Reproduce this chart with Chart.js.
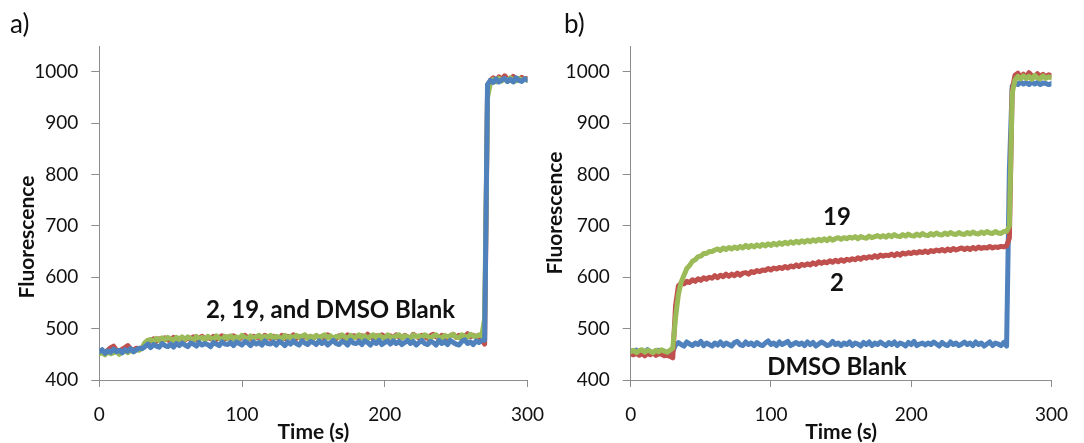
<!DOCTYPE html>
<html>
<head>
<meta charset="utf-8">
<script src="https://cdn.jsdelivr.net/npm/chart.js@4.4.1/dist/chart.umd.min.js"></script>
<style>
  html, body { margin: 0; padding: 0; background: #fff; }
  body { width: 1084px; height: 443px; position: relative; overflow: hidden; }
  .panel { position: absolute; top: 0; height: 443px; }
  #panelA { left: 0; width: 560px; }
  #panelB { left: 540px; width: 544px; }
</style>
</head>
<body>
<div class="panel" id="panelA"><canvas id="chartA"></canvas></div>
<div class="panel" id="panelB"><canvas id="chartB"></canvas></div>
<script>
// Sampling times (s)
const timeS = [
  0, 2, 4, 6, 8, 10, 12, 14, 16, 18, 20, 22, 24, 26, 28,
  30, 32, 34, 36, 38, 40, 42, 44, 46, 48, 50, 52, 54, 56, 58,
  60, 62, 64, 66, 68, 70, 72, 74, 76, 78, 80, 82, 84, 86, 88,
  90, 92, 94, 96, 98, 100, 102, 104, 106, 108, 110, 112, 114, 116, 118,
  120, 122, 124, 126, 128, 130, 132, 134, 136, 138, 140, 142, 144, 146, 148,
  150, 152, 154, 156, 158, 160, 162, 164, 166, 168, 170, 172, 174, 176, 178,
  180, 182, 184, 186, 188, 190, 192, 194, 196, 198, 200, 202, 204, 206, 208,
  210, 212, 214, 216, 218, 220, 222, 224, 226, 228, 230, 232, 234, 236, 238,
  240, 242, 244, 246, 248, 250, 252, 254, 256, 258, 260, 262, 264, 266, 268,
  270, 272, 274, 276, 278, 280, 282, 284, 286, 288, 290, 292, 294, 296, 298,
  300
];

// Panel a) fluorescence traces
const aCompound2 = [
  455, 457, 453, 458, 463, 466, 458, 456, 460, 463, 467, 460, 458, 462, 460,
  463, 471, 477, 476, 480, 475, 480, 477, 482, 478, 477, 483, 478, 481, 482,
  478, 482, 480, 484, 479, 481, 485, 479, 483, 480, 485, 479, 483, 486, 480,
  484, 480, 486, 482, 479, 484, 487, 481, 480, 485, 482, 484, 480, 487, 483,
  481, 485, 483, 480, 487, 481, 485, 483, 488, 481, 485, 480, 487, 482, 485,
  481, 486, 483, 485, 481, 488, 484, 482, 480, 486, 485, 481, 488, 483, 486,
  485, 481, 486, 483, 489, 484, 481, 486, 483, 488, 484, 482, 486, 481, 488,
  484, 482, 487, 484, 481, 489, 485, 482, 487, 484, 481, 486, 489, 484, 482,
  487, 484, 482, 486, 489, 483, 487, 482, 485, 490, 484, 487, 485, 483, 478,
  470, 958, 983, 988, 982, 990, 985, 992, 986, 983, 991, 986, 984, 989, 986,
  987
];
const aCompound19 = [
  451, 454, 449, 455, 451, 453, 456, 450, 454, 457, 453, 458, 455, 459, 458,
  462, 473, 477, 479, 475, 481, 477, 482, 478, 483, 480, 476, 483, 479, 484,
  479, 484, 481, 477, 485, 480, 483, 478, 485, 482, 479, 486, 481, 479, 485,
  481, 486, 480, 484, 481, 487, 483, 479, 486, 481, 484, 487, 481, 485, 483,
  487, 481, 485, 483, 479, 487, 482, 485, 481, 487, 483, 485, 488, 481, 485,
  482, 487, 481, 485, 488, 482, 486, 480, 485, 483, 488, 484, 480, 487, 482,
  484, 488, 482, 486, 480, 485, 488, 482, 487, 484, 480, 488, 484, 482, 486,
  488, 482, 486, 484, 480, 488, 484, 486, 482, 488, 485, 481, 486, 488, 483,
  482, 487, 484, 486, 489, 483, 482, 488, 485, 483, 489, 486, 484, 488, 486,
  520, 950, 977, 985, 980, 987, 982, 986, 981, 988, 984, 982, 987, 983, 986,
  983
];
const aBlank = [
  455, 459, 452, 457, 454, 460, 455, 458, 453, 459, 456, 461, 455, 459, 462,
  461, 465, 470, 463, 469, 466, 464, 471, 467, 465, 470, 464, 471, 467, 472,
  468, 465, 472, 470, 466, 473, 468, 471, 469, 465, 473, 470, 467, 474, 470,
  469, 473, 467, 474, 471, 468, 475, 472, 467, 474, 470, 473, 468, 476, 471,
  470, 474, 468, 475, 472, 467, 474, 470, 476, 471, 468, 476, 472, 469, 475,
  473, 469, 476, 471, 475, 468, 473, 477, 471, 469, 475, 473, 468, 477, 472,
  471, 475, 469, 476, 473, 468, 475, 471, 477, 469, 473, 476, 470, 476, 471,
  475, 469, 473, 477, 471, 475, 468, 473, 477, 471, 469, 475, 473, 468, 477,
  471, 475, 469, 477, 473, 470, 468, 475, 478, 471, 474, 469, 476, 473, 477,
  478, 975, 983, 979, 986, 980, 984, 987, 981, 985, 980, 988, 983, 981, 986,
  984
];

// Panel b) fluorescence traces
const bCompound2 = [
  451, 449, 452, 448, 451, 447, 452, 449, 453, 448, 451, 450, 447, 448, 446,
  443, 545, 583, 588, 587, 592, 590, 595, 592, 597, 594, 599, 596, 600, 598,
  603, 599, 604, 601, 606, 602, 606, 603, 608, 604, 608, 609, 606, 611, 609,
  613, 611, 614, 613, 617, 614, 618, 616, 619, 617, 621, 618, 622, 620, 624,
  621, 625, 623, 626, 624, 628, 625, 630, 627, 630, 628, 632, 629, 633, 630,
  634, 631, 635, 633, 636, 634, 638, 635, 639, 637, 640, 638, 642, 639, 643,
  641, 643, 642, 645, 642, 646, 643, 647, 645, 648, 646, 649, 647, 650, 648,
  651, 648, 652, 650, 653, 651, 654, 651, 655, 652, 656, 653, 655, 657, 654,
  657, 654, 658, 655, 659, 656, 658, 657, 660, 657, 659, 658, 660, 659, 661,
  676, 965, 993, 997, 989, 995, 990, 998, 992, 990, 996, 991, 995, 990, 994,
  992
];
const bCompound19 = [
  455, 458, 453, 457, 459, 454, 458, 456, 453, 458, 455, 459, 456, 454, 458,
  462, 522, 566, 591, 604, 617, 623, 631, 634, 640, 641, 646, 646, 650, 650,
  653, 655, 652, 657, 654, 658, 655, 659, 656, 660, 657, 662, 658, 662, 659,
  663, 660, 664, 661, 665, 662, 666, 663, 667, 664, 668, 665, 669, 666, 670,
  667, 671, 668, 672, 669, 673, 670, 674, 671, 675, 671, 676, 672, 675, 677,
  674, 677, 675, 678, 676, 679, 675, 679, 677, 676, 680, 677, 679, 681, 678,
  681, 678, 682, 679, 683, 680, 679, 683, 680, 684, 681, 680, 684, 681, 685,
  682, 681, 685, 682, 686, 683, 682, 686, 683, 687, 684, 683, 687, 684, 683,
  687, 684, 688, 685, 684, 688, 685, 689, 686, 685, 689, 686, 685, 689, 689,
  700, 958, 984, 991, 986, 992, 987, 991, 985, 993, 988, 986, 992, 987, 990,
  988
];
const bBlank = [
  457, 453, 458, 452, 456, 454, 459, 455, 452, 457, 458, 453, 456, 452, 455,
  456, 468, 473, 469, 466, 474, 470, 467, 472, 469, 475, 467, 472, 469, 466,
  472, 468, 474, 467, 472, 469, 466, 473, 475, 469, 467, 474, 469, 472, 467,
  473, 469, 467, 472, 476, 469, 472, 467, 474, 469, 472, 475, 467, 470, 473,
  469, 472, 467, 474, 469, 473, 466, 470, 474, 471, 467, 469, 475, 469, 472,
  467, 472, 469, 474, 467, 472, 470, 466, 473, 469, 474, 467, 472, 469, 474,
  470, 467, 473, 469, 474, 467, 472, 470, 466, 473, 469, 475, 467, 470, 472,
  468, 472, 469, 474, 470, 466, 473, 469, 467, 474, 469, 472, 467, 470, 474,
  469, 472, 467, 474, 469, 472, 466, 470, 474, 467, 472, 470, 467, 473, 466,
  810, 972, 979, 975, 980, 976, 979, 975, 980, 976, 979, 975, 978, 977, 975,
  977
];

// Axis ticks and text
const xTicks = [0, 100, 200, 300];
const yTicks = [400, 500, 600, 700, 800, 900, 1000];
const xTitle = 'Time (s)';
const yTitle = 'Fluorescence';
const panelLetters = ['a)', 'b)'];
const aNoteText = ['2, 19, and DMSO Blank'];
const bNoteText = ['19', '2', 'DMSO Blank'];

const FONT = 'Lato, "Open Sans", sans-serif';
const TEXT = '#111111';
const AXIS = '#8c8c8c';
const RED = '#C0504D';
const GREEN = '#9BBB59';
const BLUE = '#4F81BD';

// Draws panel letter, axis titles and the in-plot trace labels
function panelText(cfg) {
  return {
    id: 'panelText',
    afterDatasetsDraw(chart) {
      const { ctx, chartArea, scales } = chart;
      ctx.save();
      ctx.fillStyle = TEXT;
      ctx.textBaseline = 'middle';

      ctx.font = `26px ${FONT}`;
      ctx.textAlign = 'left';
      ctx.fillText(cfg.letter, cfg.letterX, 25);

      ctx.font = `bold 21px ${FONT}`;
      ctx.textAlign = 'center';
      ctx.fillText(xTitle, (chartArea.left + chartArea.right) / 2, 432);

      ctx.save();
      ctx.translate(cfg.yTitleX, cfg.yTitleY);
      ctx.rotate(-Math.PI / 2);
      ctx.fillText(yTitle, 0, 0);
      ctx.restore();

      ctx.font = `bold 24px ${FONT}`;
      cfg.notes.forEach(n => {
        ctx.fillText(n.text, scales.x.getPixelForValue(n.x), scales.y.getPixelForValue(n.y));
      });
      ctx.restore();
    }
  };
}

function series(values, color, order) {
  return {
    data: timeS.map((t, i) => ({ x: t, y: values[i] })),
    borderColor: color,
    backgroundColor: color,
    borderWidth: 5,
    borderJoinStyle: 'round',
    borderCapStyle: 'round',
    pointRadius: 0,
    tension: 0,
    order: order
  };
}

function makeChart(id, datasets, cfg) {
  return new Chart(document.getElementById(id), {
    type: 'line',
    data: { datasets },
    options: {
      responsive: true,
      maintainAspectRatio: false,
      animation: false,
      layout: { padding: { top: 46, right: cfg.padRight, bottom: 0, left: 0 } },
      plugins: { legend: { display: false }, tooltip: { enabled: false } },
      scales: {
        x: {
          type: 'linear',
          min: 0,
          max: 300,
          afterBuildTicks: ax => { ax.ticks = xTicks.map(v => ({ value: v })); },
          afterFit: ax => { ax.height = 63; },
          grid: { drawOnChartArea: false, drawTicks: true, tickLength: 7, color: AXIS },
          border: { display: true, color: AXIS, width: 1 },
          ticks: {
            padding: 16, color: TEXT, font: { family: FONT, size: 19 },
            maxRotation: 0, autoSkip: false,
            callback: v => String(v)
          }
        },
        y: {
          type: 'linear',
          min: 400,
          max: 1050,
          afterBuildTicks: ax => { ax.ticks = yTicks.map(v => ({ value: v })); },
          afterFit: ax => { ax.width = cfg.yWidth; },
          grid: { drawOnChartArea: false, drawTicks: true, tickLength: 8, color: AXIS },
          border: { display: true, color: AXIS, width: 1 },
          ticks: {
            padding: 13, color: TEXT, font: { family: FONT, size: 19 },
            callback: v => String(v)
          }
        }
      }
    },
    plugins: [panelText(cfg)]
  });
}

makeChart('chartA', [
  series(aBlank, BLUE, 0),
  series(aCompound19, GREEN, 1),
  series(aCompound2, RED, 2)
], {
  yWidth: 99.3, padRight: 28.7,
  letter: panelLetters[0], letterX: 10,
  yTitleX: 27, yTitleY: 237,
  notes: [{ text: aNoteText[0], x: 162, y: 536 }]
});

makeChart('chartB', [
  series(bCompound19, GREEN, 0),
  series(bCompound2, RED, 1),
  series(bBlank, BLUE, 2)
], {
  yWidth: 90.7, padRight: 21,
  letter: panelLetters[1], letterX: 24,
  yTitleX: 15, yTitleY: 213,
  notes: [
    { text: bNoteText[0], x: 147, y: 717 },
    { text: bNoteText[1], x: 147, y: 589 },
    { text: bNoteText[2], x: 147, y: 425 }
  ]
});
</script>
</body>
</html>
